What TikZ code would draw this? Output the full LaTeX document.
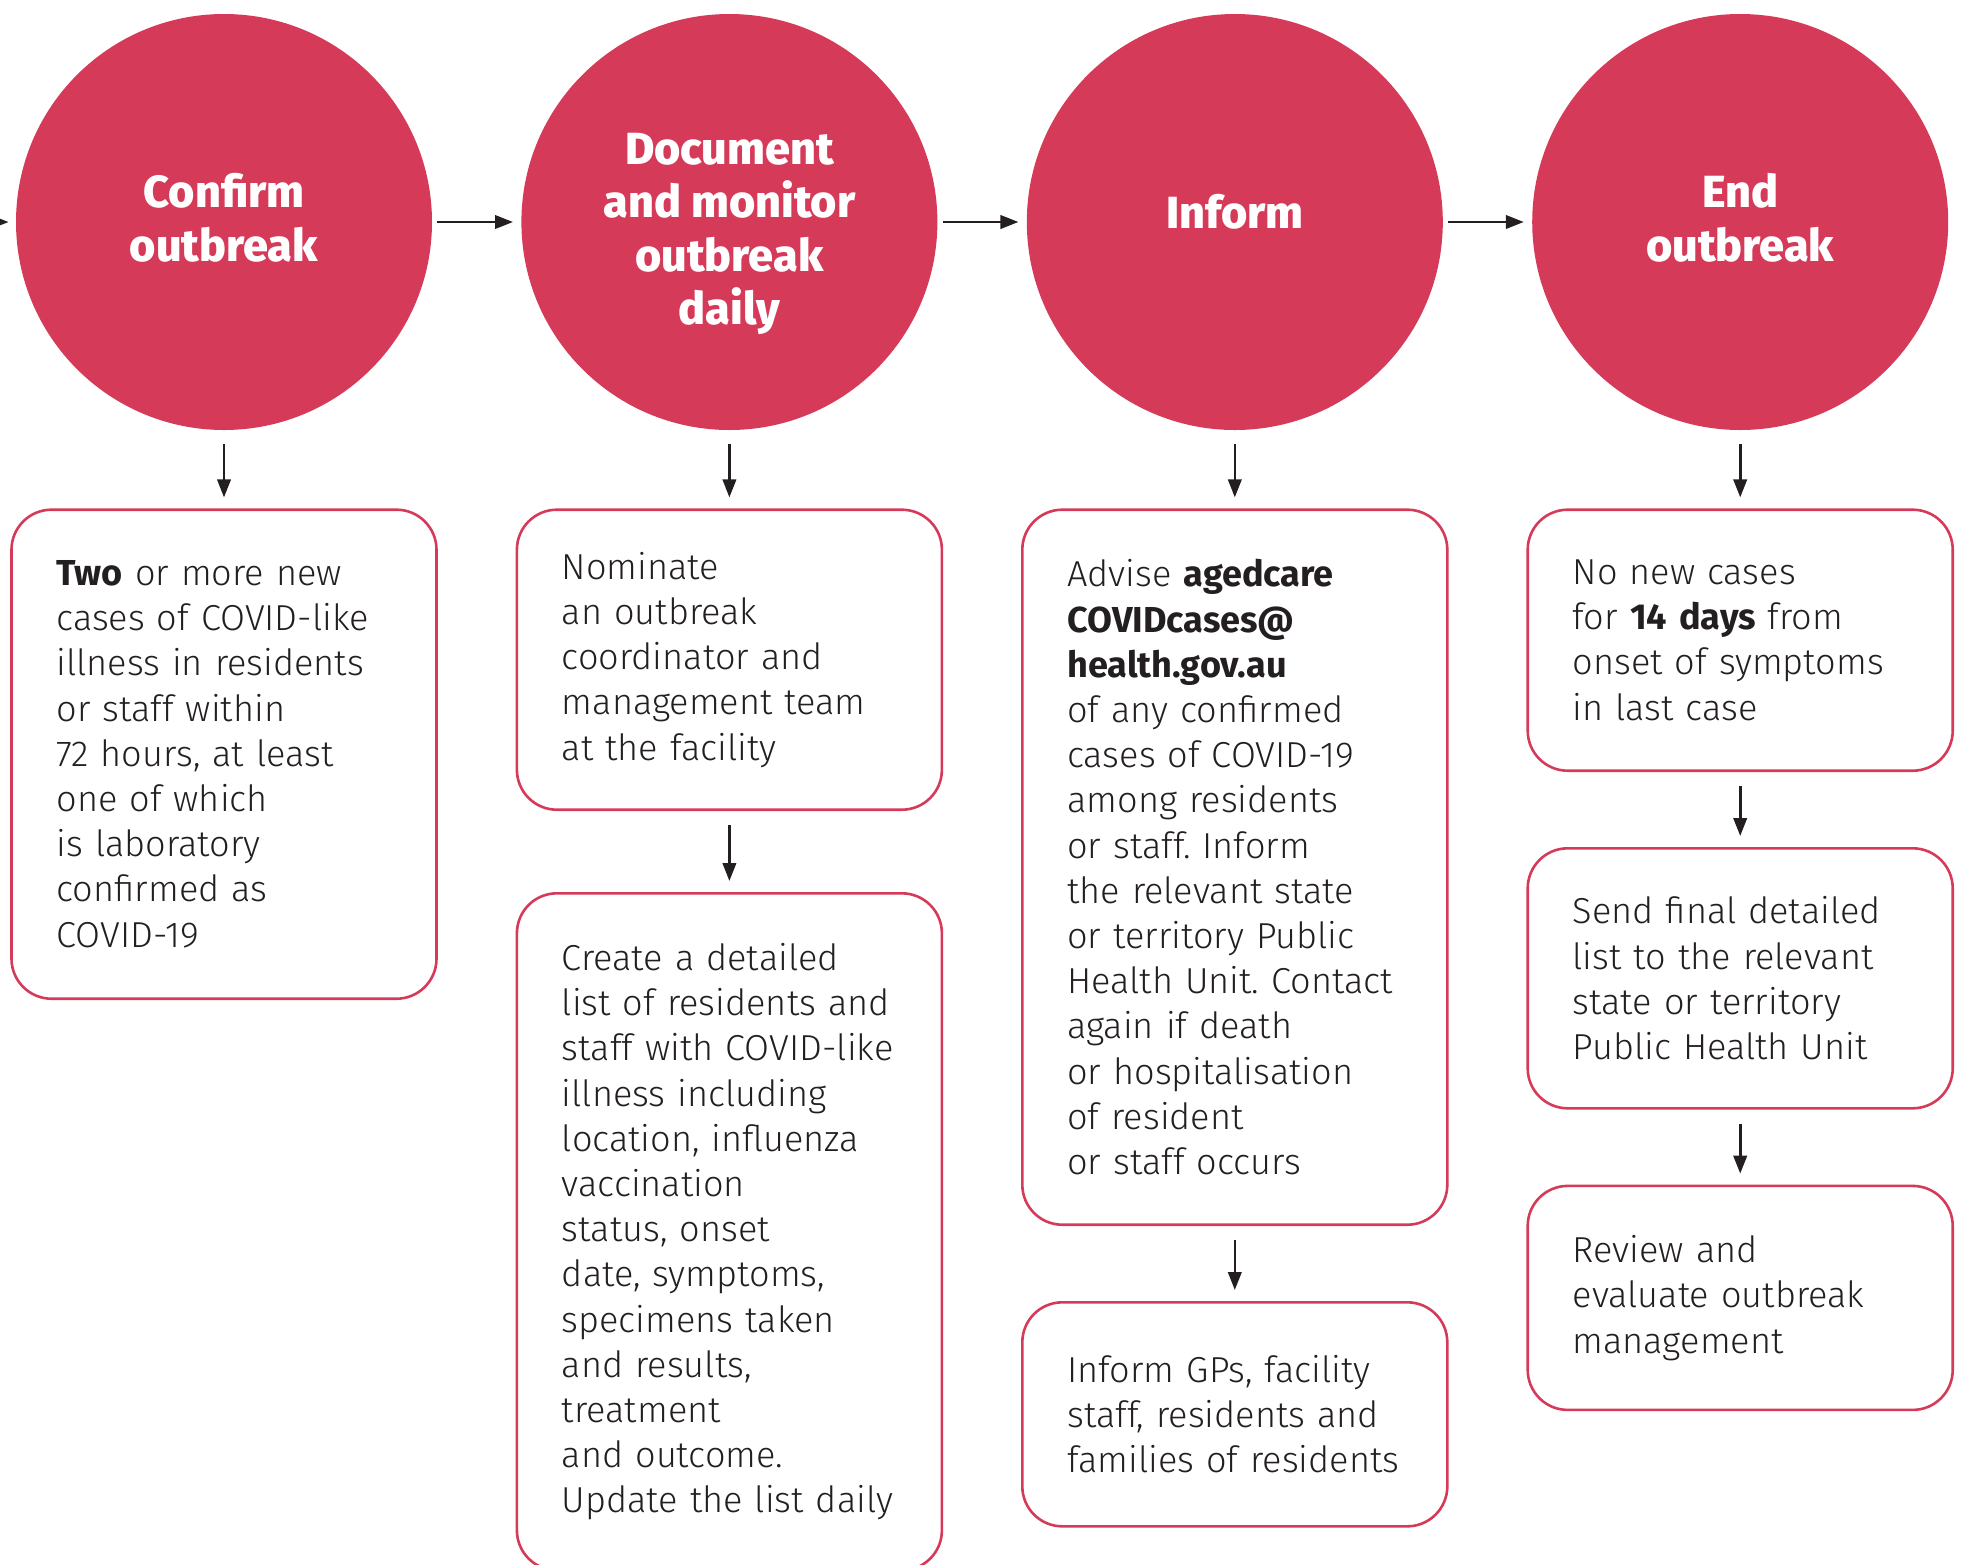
\documentclass[tikz,border=0pt]{standalone}
\usepackage{fontspec}
\setmainfont{Fira Sans Light}[BoldFont={Fira Sans Bold}]
\newfontfamily\titlefont{Fira Sans ExtraBold}
\usetikzlibrary{positioning,arrows.meta}
\definecolor{outbreakred}{HTML}{D63A59}
\definecolor{ink}{HTML}{231F20}
\frenchspacing
\hyphenpenalty=10000
\exhyphenpenalty=10000

\begin{document}
\begin{tikzpicture}[
font=\fontsize{18.05pt}{22.6pt}\selectfont,
phase/.style={circle,fill=outbreakred,minimum size=208pt,inner sep=0pt},
title/.style={text=white,align=center,font=\fontsize{22.5pt}{26.8pt}\titlefont},
task/.style={rectangle,draw=outbreakred,line width=1.3pt,rounded corners=20pt,text width=167.5pt,inner xsep=22.5pt,inner ysep=0pt,align=left,text=ink},
flow/.style={draw=ink,line width=1.3pt,-{Triangle[length=9pt,width=6.7pt]}},
down/.style={flow,shorten <=7pt,shorten >=5.5pt},
node distance=37.5pt
]

\useasboundingbox (0,0) rectangle (981.5pt,-782pt);

% Set spacing of phases
\def\gap{252.7pt}

\foreach \i/\dy/\txt in {1/2pt/{Confirm\\outbreak},2/-6pt/{Document\\and monitor\\outbreak\\daily},3/5pt/{Inform},4/2pt/{End\\outbreak}}{
  \node [phase] at ({112pt+(\i-1)*\gap},-111pt) (c\i) {};
  \node [title] at ([yshift=\dy]c\i.center) (t\i) {\txt};
}

% Tasks below each phase
\node [task,minimum height=244.5pt,below=39pt of c1] (b1) {\textbf{Two} or more new\\cases of COVID-like\\illness in residents\\or staff within\\72 hours, at least\\one of which\\is laboratory\\confirmed as\\COVID-19};

\node [task,minimum height=150pt,below=39pt of c2] (b2a) {Nominate\\an outbreak\\coordinator and\\management team\\at the facility};
\node [task,minimum height=338.5pt,below=40.5pt of b2a] (b2b) {Create a detailed\\list of residents and\\staff with COVID-like\\illness including\\location, influenza\\vaccination\\status, onset\\date, symptoms,\\specimens taken\\and results,\\treatment\\and outcome.\\Update the list daily};

\node [task,minimum height=357.5pt,below=39pt of c3] (b3a) {Advise \textbf{agedcare}\\\textbf{COVIDcases@}\\\textbf{health.gov.au}\\of any confirmed\\cases of COVID-19\\among residents\\or staff. Inform\\the relevant state\\or territory Public\\Health Unit. Contact\\again if death\\or hospitalisation\\of resident\\or staff occurs};
\node [task,minimum height=112pt,below=of b3a] (b3b) {Inform GPs, facility\\staff, residents and\\families of residents};

\node [task,minimum height=130.5pt,below=39pt of c4] (b4a) {No new cases\\for \textbf{14 days} from\\onset of symptoms\\in last case};
\node [task,minimum height=130pt,below=of b4a] (b4b) {Send final detailed\\list to the relevant\\state or territory\\Public Health Unit};
\node [task,minimum height=112pt,below=of b4b] (b4c) {Review and\\evaluate outbreak\\management};

% Draw arrows between phases
\coordinate (start) at (-20pt,-111pt);
\draw [flow,shorten >=3.5pt] (start) -- (c1);
\foreach \i in {1,2,3}{
  \pgfmathtruncatemacro\j{\i+1}
  \draw [flow,shorten <=2.5pt,shorten >=4pt] (c\i) -- (c\j);
}

% Draw arrows down each column
\foreach \a/\b in {c1/b1,c2/b2a,b2a/b2b,c3/b3a,b3a/b3b,c4/b4a,b4a/b4b,b4b/b4c}{
  \draw [down] (\a) -- (\b);
}
\end{tikzpicture}
\end{document}
